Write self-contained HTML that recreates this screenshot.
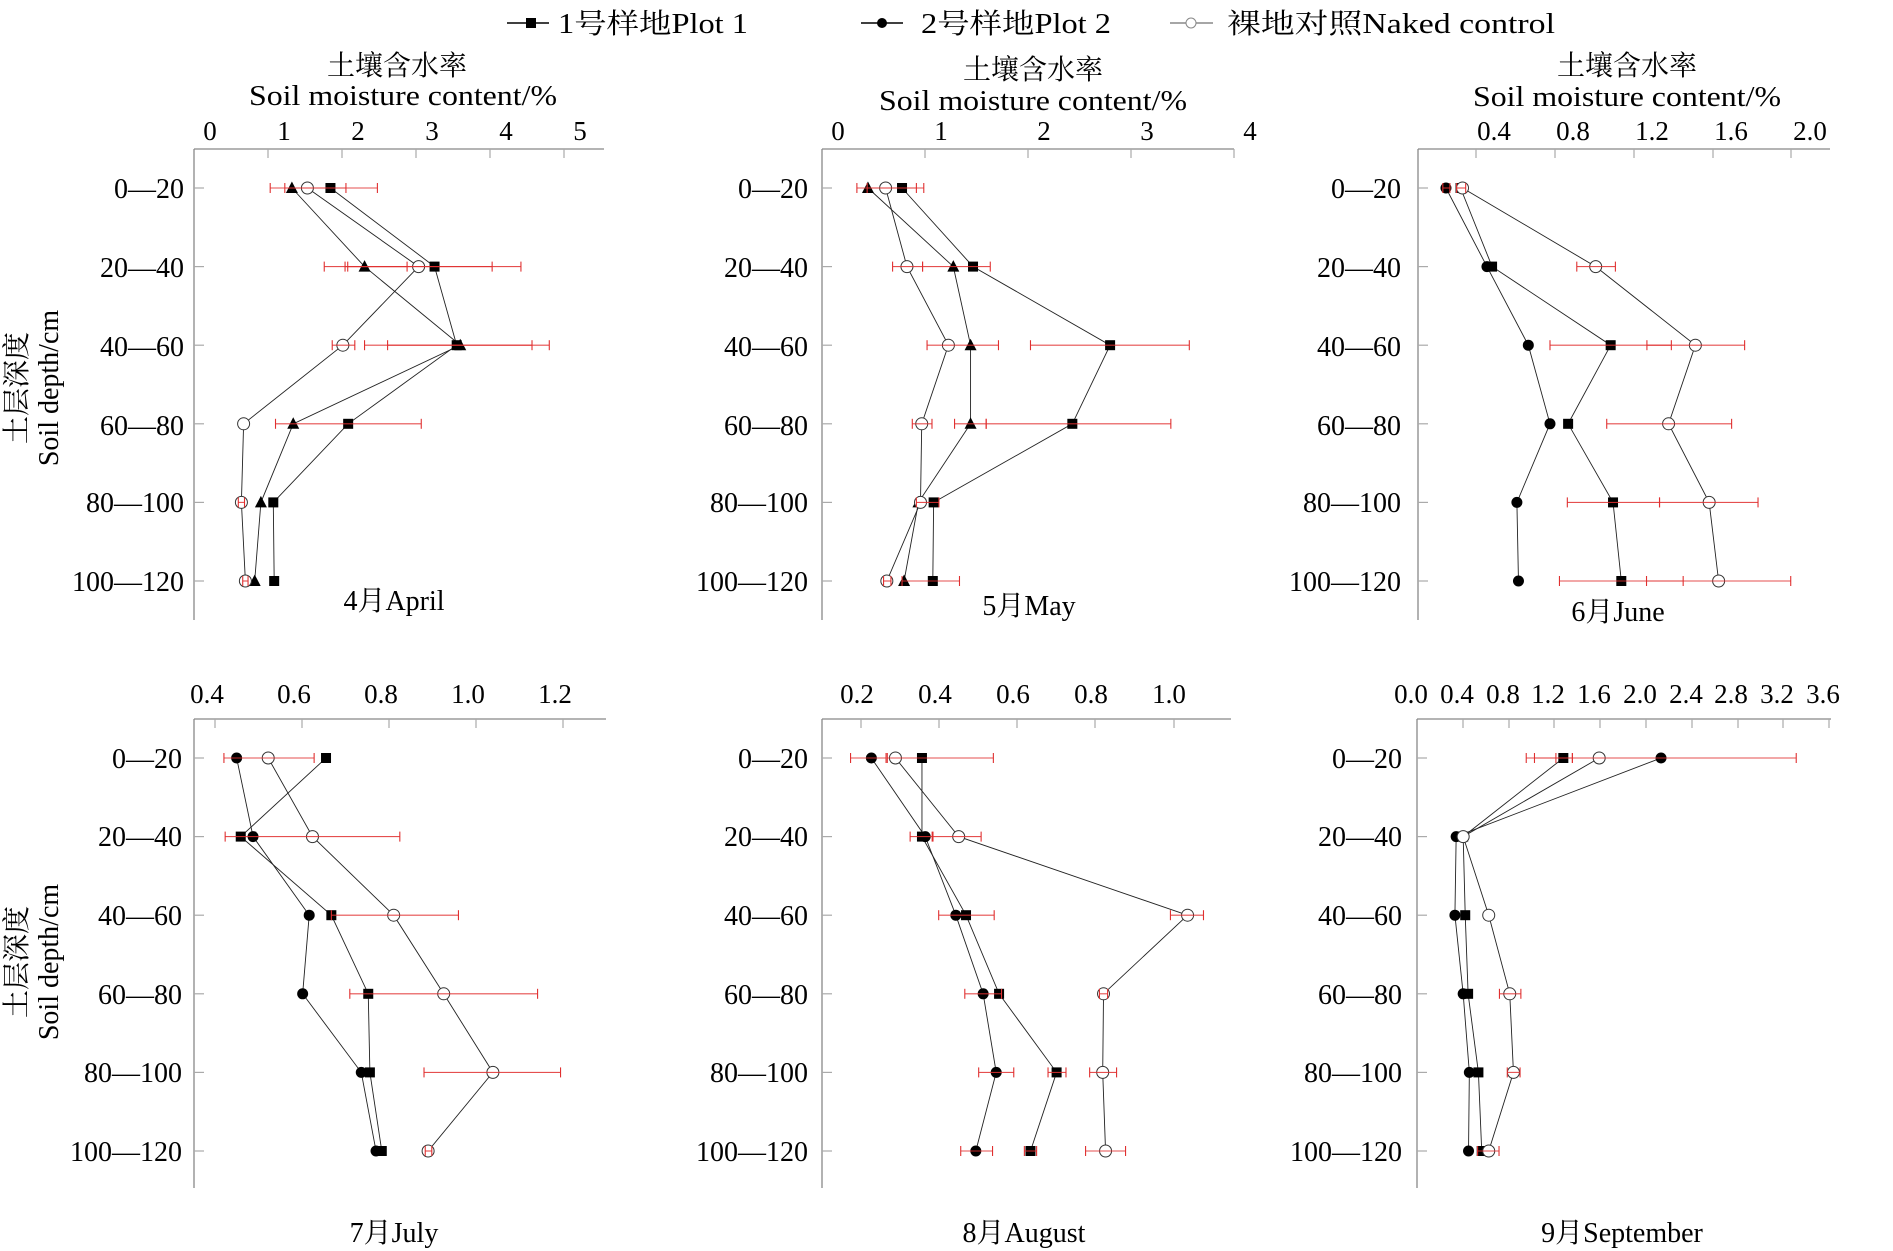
<!DOCTYPE html>
<html><head><meta charset="utf-8"><style>
html,body{margin:0;padding:0;background:#fff;}
svg{display:block;}
text{font-family:"Liberation Serif","Noto Serif CJK SC","Noto Sans CJK SC",serif;fill:#000;}
</style></head><body>
<svg id="s" width="1893" height="1251" viewBox="0 0 1893 1251" xmlns="http://www.w3.org/2000/svg">
<!-- legend -->
<g font-size="28">
<line x1="507" y1="23" x2="549" y2="23" stroke="#000" stroke-width="1.5"/><rect x="526" y="18" width="10" height="10" fill="#000"/>
<text x="558" y="33" textLength="190" lengthAdjust="spacingAndGlyphs">1号样地Plot 1</text>
<line x1="861" y1="23" x2="903" y2="23" stroke="#000" stroke-width="1.5"/><circle cx="882" cy="23" r="5" fill="#000"/>
<text x="921" y="33" textLength="190" lengthAdjust="spacingAndGlyphs">2号样地Plot 2</text>
<line x1="1170" y1="23" x2="1213" y2="23" stroke="#888" stroke-width="1.5"/><circle cx="1191" cy="23" r="5" fill="#fff" stroke="#888"/>
<text x="1227" y="33" textLength="328" lengthAdjust="spacingAndGlyphs">裸地对照Naked control</text>
</g>
<!-- titles -->
<g font-size="28" text-anchor="middle">
<text x="397" y="75">土壤含水率</text><text x="403" y="105" textLength="308" lengthAdjust="spacingAndGlyphs">Soil moisture content/%</text>
<text x="1033" y="79">土壤含水率</text><text x="1033" y="110" textLength="308" lengthAdjust="spacingAndGlyphs">Soil moisture content/%</text>
<text x="1627" y="75">土壤含水率</text><text x="1627" y="106" textLength="308" lengthAdjust="spacingAndGlyphs">Soil moisture content/%</text>
</g>
<!-- month labels -->
<g font-size="28" text-anchor="middle">
<text x="394" y="610">4月April</text>
<text x="1029" y="615">5月May</text>
<text x="1618" y="621">6月June</text>
<text x="394" y="1242">7月July</text>
<text x="1024" y="1242">8月August</text>
<text x="1622" y="1242">9月September</text>
</g>
<!-- y labels -->
<g font-size="28" text-anchor="middle">
<text transform="translate(26,388) rotate(-90)">土层深度</text>
<text transform="translate(58,388) rotate(-90)">Soil depth/cm</text>
<text transform="translate(26,962) rotate(-90)">土层深度</text>
<text transform="translate(58,962) rotate(-90)">Soil depth/cm</text>
</g>
<!-- tick labels top -->
<g font-size="27" text-anchor="middle">
<text x="210" y="140">0</text><text x="284" y="140">1</text><text x="358" y="140">2</text><text x="432" y="140">3</text><text x="506" y="140">4</text><text x="580" y="140">5</text>
<text x="838" y="140">0</text><text x="941" y="140">1</text><text x="1044" y="140">2</text><text x="1147" y="140">3</text><text x="1250" y="140">4</text>
<text x="1494" y="140">0.4</text><text x="1573" y="140">0.8</text><text x="1652" y="140">1.2</text><text x="1731" y="140">1.6</text><text x="1810" y="140">2.0</text>
<text x="207" y="703">0.4</text><text x="294" y="703">0.6</text><text x="381" y="703">0.8</text><text x="468" y="703">1.0</text><text x="555" y="703">1.2</text>
<text x="857" y="703">0.2</text><text x="935" y="703">0.4</text><text x="1013" y="703">0.6</text><text x="1091" y="703">0.8</text><text x="1169" y="703">1.0</text>
</g>
<g font-size="27" text-anchor="middle">
<text x="1411" y="703">0.0</text><text x="1457" y="703">0.4</text><text x="1503" y="703">0.8</text><text x="1548" y="703">1.2</text><text x="1594" y="703">1.6</text><text x="1640" y="703">2.0</text><text x="1686" y="703">2.4</text><text x="1731" y="703">2.8</text><text x="1777" y="703">3.2</text><text x="1823" y="703">3.6</text>
</g>
<!-- category labels -->
<g font-size="28" text-anchor="end">
<text x="184" y="198">0—20</text><text x="184" y="277">20—40</text><text x="184" y="356">40—60</text><text x="184" y="435">60—80</text><text x="184" y="512">80—100</text><text x="184" y="591">100—120</text>
<text x="808" y="198">0—20</text><text x="808" y="277">20—40</text><text x="808" y="356">40—60</text><text x="808" y="435">60—80</text><text x="808" y="512">80—100</text><text x="808" y="591">100—120</text>
<text x="1401" y="198">0—20</text><text x="1401" y="277">20—40</text><text x="1401" y="356">40—60</text><text x="1401" y="435">60—80</text><text x="1401" y="512">80—100</text><text x="1401" y="591">100—120</text>
<text x="182" y="768">0—20</text><text x="182" y="846">20—40</text><text x="182" y="925">40—60</text><text x="182" y="1004">60—80</text><text x="182" y="1082">80—100</text><text x="182" y="1161">100—120</text>
<text x="808" y="768">0—20</text><text x="808" y="846">20—40</text><text x="808" y="925">40—60</text><text x="808" y="1004">60—80</text><text x="808" y="1082">80—100</text><text x="808" y="1161">100—120</text>
<text x="1402" y="768">0—20</text><text x="1402" y="846">20—40</text><text x="1402" y="925">40—60</text><text x="1402" y="1004">60—80</text><text x="1402" y="1082">80—100</text><text x="1402" y="1161">100—120</text>
</g>
<g id="plots"></g>
</svg>
<script>
var NS="http://www.w3.org/2000/svg",G=document.getElementById("plots");
function el(t,a){var e=document.createElementNS(NS,t);for(var k in a)e.setAttribute(k,a[k]);G.appendChild(e);return e;}
var P=[
 {ax:194,z0:435,k:0.443,top:149,bot:620,r0:188,right:604,ticks:[268,342,416,490,564],
  s:[[743,978,1028,783,614,616],[656,820,1036,659,586,572],[691,942,771,547,542,551]],types:["sq","tri","oc"],
  b:[[[607,778],[640,849]],[[729,916],[782,1173],[776,1108]],[[747,798],[872,1198],[820,1237]],[[619,948]],[[535,549]],[[545,557]]]},
 {ax:822,z0:450,k:0.4104,top:149,bot:620,r0:188,right:1234,ticks:[925,1028,1131,1234],
  s:[[645,818,1152,1060,722,720],[562,770,812,812,685,650],[605,657,758,693,690,608]],types:["sq","tri","oc"],
  b:[[[535,698],[560,680]],[[622,695],[695,860]],[[706,880],[958,1345]],[[670,718],[773,850],[850,1300]],[[680,735]],[[645,785],[600,618]]]},
 {ax:1418,z0:357,k:0.394,top:149,bot:620,r0:188,right:1830,ticks:[1476,1555,1634,1713,1791],
  s:[[465,545,846,738,852,873],[428,532,637,692,608,612],[470,808,1061,993,1096,1120]],types:["sq","fc","oc"],
  b:[[[455,478],[420,438]],[[760,858]],[[692,1000],[938,1186]],[[836,1153]],[[736,970],[970,1220]],[[716,1030],[937,1303]]]},
 {ax:194,z0:476,k:0.41,top:719,bot:1188,r0:758,right:606,ticks:[215,302,389,476,563],
  s:[[798,590,811,901,905,934],[580,620,757,741,884,920],[657,765,963,1085,1205,1047]],types:["sq","fc","oc"],
  b:[[[549,769]],[[552,978]],[[811,1121]],[[856,1314]],[[1037,1370]],[[1040,1056]]]},
 {ax:822,z0:450,k:0.408,top:719,bot:1188,r0:758,right:1231,ticks:[861,939,1017,1095,1174],
  s:[[695,695,803,884,1025,961],[571,703,778,845,877,827],[630,785,1346,1140,1138,1145]],types:["sq","fc","oc"],
  b:[[[520,607],[610,870]],[[666,720],[722,840]],[[736,872],[1304,1385]],[[800,890],[1130,1150]],[[834,920],[1004,1048],[1106,1172]],[[790,868],[946,976],[1096,1194]]]},
 {ax:1417,z0:413,k:0.4122,top:719,bot:1188,r0:758,right:1831,ticks:[1463,1509,1554,1600,1646,1692,1738,1783,1829],
  s:[[768,525,530,537,562,570],[1005,508,505,525,540,538],[855,525,587,638,647,587]],types:["sq","fc","oc"],
  b:[[[678,1333],[698,790],[750,790]],[],[],[[613,665]],[[632,663]],[[560,612]]]}
];
P.forEach(function(p){
 var X=function(z){return p.ax+(z-p.z0)*p.k;},Y=function(i){return p.r0+78.6*i;};
 el("line",{x1:p.ax,y1:p.top,x2:p.right,y2:p.top,stroke:"#888","stroke-width":1.3});
 el("line",{x1:p.ax,y1:p.top,x2:p.ax,y2:p.bot,stroke:"#888","stroke-width":1.3});
 p.ticks.forEach(function(t){el("line",{x1:t,y1:p.top,x2:t,y2:p.top+9,stroke:"#aaa","stroke-width":1.2});});
 for(var i=0;i<6;i++)el("line",{x1:p.ax,y1:Y(i),x2:p.ax+10,y2:Y(i),stroke:"#aaa","stroke-width":1.2});
 p.s.forEach(function(s){var pts=s.map(function(z,i){return X(z)+","+Y(i);}).join(" ");
  el("polyline",{points:pts,fill:"none",stroke:"#222","stroke-width":0.9});});
 p.s.forEach(function(s,j){var t=p.types[j];s.forEach(function(z,i){var x=X(z),y=Y(i);
  if(t=="sq")el("rect",{x:x-5,y:y-5,width:10,height:10,fill:"#000"});
  else if(t=="fc")el("circle",{cx:x,cy:y,r:5.5,fill:"#000"});
  else if(t=="tri")el("polygon",{points:(x)+","+(y-6.5)+" "+(x-6)+","+(y+5)+" "+(x+6)+","+(y+5),fill:"#000"});
  else el("circle",{cx:x,cy:y,r:6,fill:"#fff",stroke:"#333","stroke-width":1});
 });});
 p.b.forEach(function(bs,i){var y=Y(i);bs.forEach(function(b){var a=X(b[0]),c=X(b[1]);
  el("line",{x1:a,y1:y,x2:c,y2:y,stroke:"#e03030","stroke-width":1.1,"stroke-opacity":0.85});
  el("line",{x1:a,y1:y-5,x2:a,y2:y+5,stroke:"#e03030","stroke-width":1.1});
  el("line",{x1:c,y1:y-5,x2:c,y2:y+5,stroke:"#e03030","stroke-width":1.1});});});
});
</script>
</body></html>
